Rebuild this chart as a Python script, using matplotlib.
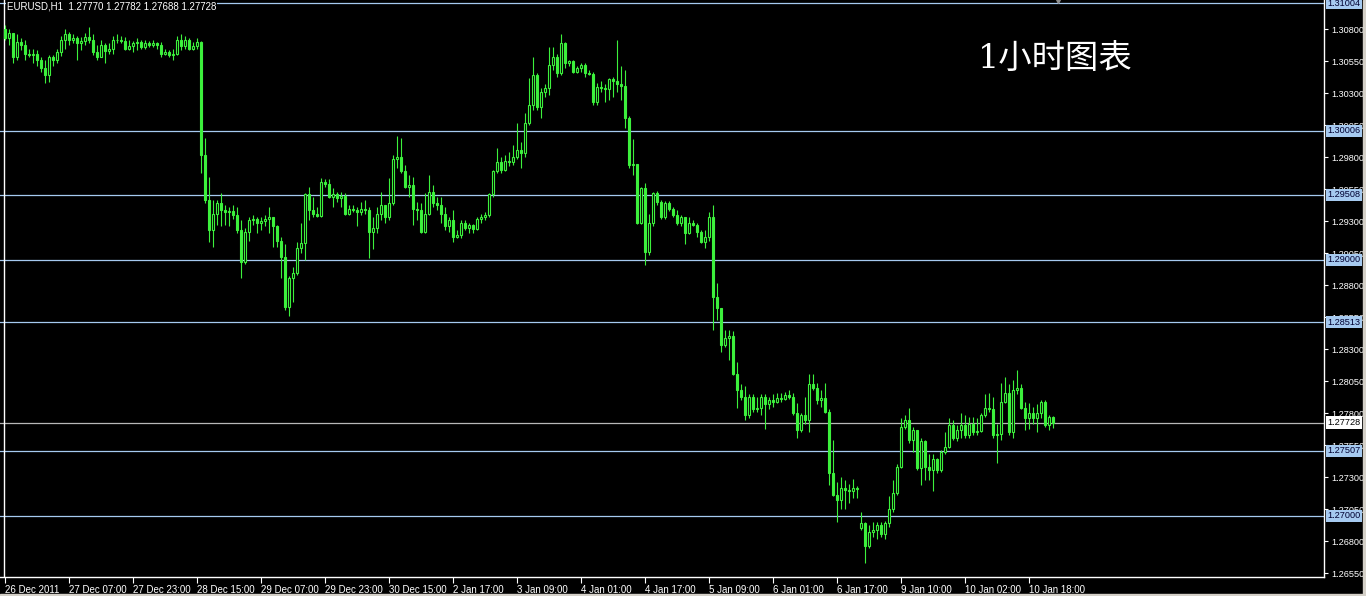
import numpy as np
import matplotlib
matplotlib.use('Agg')
import matplotlib.pyplot as plt
from matplotlib.patches import Rectangle
from matplotlib.transforms import blended_transform_factory

plt.rcParams['font.family'] = ['Liberation Sans', 'Noto Sans CJK SC', 'DejaVu Sans']

# EURUSD H1, 26 Dec 2011 .. 10 Jan 2012
header = 'EURUSD,H1  1.27770 1.27782 1.27688 1.27728'
title = '1小时图表'

first_open = 1.3080
gap_opens = {214: 1.2690}   # weekend gap, open differs from previous close

closes = [
    1.3073, 1.3077, 1.3058, 1.3070, 1.3068, 1.3061, 1.3060, 1.3061, 1.3056, 1.3050,
    1.3044, 1.3058, 1.3056, 1.3062, 1.3072, 1.3076, 1.3072, 1.3073, 1.3069, 1.3071,
    1.3074, 1.3072, 1.3062, 1.3058, 1.3068, 1.3063, 1.3065, 1.3072, 1.3072, 1.3071,
    1.3065, 1.3067, 1.3069, 1.3070, 1.3066, 1.3069, 1.3068, 1.3069, 1.3068, 1.3061,
    1.3062, 1.3060, 1.3061, 1.3072, 1.3067, 1.3072, 1.3065, 1.3067, 1.3070, 1.2982,
    1.2947, 1.2923, 1.2936, 1.2944, 1.2939, 1.2937, 1.2938, 1.2935, 1.2923, 1.2898,
    1.2922, 1.2931, 1.2932, 1.2929, 1.2930, 1.2932, 1.2933, 1.2926, 1.2915, 1.2902,
    1.2863, 1.2886, 1.2890, 1.2909, 1.2913, 1.2951, 1.2939, 1.2936, 1.2934, 1.2961,
    1.2959, 1.2949, 1.2951, 1.2948, 1.2950, 1.2936, 1.2940, 1.2939, 1.2937, 1.2940,
    1.2939, 1.2922, 1.2925, 1.2936, 1.2943, 1.2933, 1.2944, 1.2979, 1.2980, 1.2969,
    1.2957, 1.2958, 1.2940, 1.2939, 1.2922, 1.2936, 1.2953, 1.2944, 1.2943, 1.2936,
    1.2926, 1.2931, 1.2918, 1.2919, 1.2929, 1.2925, 1.2927, 1.2924, 1.2932, 1.2933,
    1.2935, 1.2951, 1.2969, 1.2976, 1.2970, 1.2977, 1.2976, 1.2980, 1.2986, 1.2983,
    1.3007, 1.3021, 1.3044, 1.3019, 1.3031, 1.3034, 1.3052, 1.3058, 1.3046, 1.3069,
    1.3054, 1.3055, 1.3047, 1.3050, 1.3052, 1.3046, 1.3045, 1.3023, 1.3035, 1.3034,
    1.3033, 1.3041, 1.3040, 1.3037, 1.3036, 1.3011, 1.2974, 1.2975, 1.2929, 1.2956,
    1.2906, 1.2929, 1.2952, 1.2945, 1.2933, 1.2944, 1.2940, 1.2935, 1.2929, 1.2933,
    1.2921, 1.2929, 1.2927, 1.2922, 1.2914, 1.2918, 1.2933, 1.2871, 1.2862, 1.2833,
    1.2839, 1.2840, 1.2811, 1.2798, 1.2793, 1.2779, 1.2793, 1.2783, 1.2784, 1.2793,
    1.2787, 1.2790, 1.2789, 1.2792, 1.2791, 1.2794, 1.2793, 1.2780, 1.2767, 1.2779,
    1.2775, 1.2803, 1.2800, 1.2790, 1.2792, 1.2781, 1.2733, 1.2716, 1.2712, 1.2722,
    1.2720, 1.2719, 1.2722, 1.2721, 1.2694, 1.2676, 1.2687, 1.2689, 1.2693, 1.2686,
    1.2694, 1.2705, 1.2718, 1.2738, 1.2769, 1.2775, 1.2759, 1.2767, 1.2737, 1.2758,
    1.2738, 1.2736, 1.2744, 1.2736, 1.2750, 1.2754, 1.2771, 1.2761, 1.2767, 1.2771,
    1.2763, 1.2772, 1.2765, 1.2766, 1.2779, 1.2784, 1.2783, 1.2763, 1.2764, 1.2789,
    1.2796, 1.2765, 1.2798, 1.2800, 1.2784, 1.2776, 1.2780, 1.2776, 1.2780, 1.2789,
    1.2771, 1.27770, 1.27728,
]

highs = [
    1.3083, 1.3080, 1.3073, 1.3076, 1.3073, 1.3072, 1.3065, 1.3065, 1.3064, 1.3058,
    1.3056, 1.3060, 1.3060, 1.3065, 1.3075, 1.3080, 1.3078, 1.3076, 1.3075, 1.3074,
    1.3077, 1.3082, 1.3076, 1.3068, 1.3072, 1.3069, 1.3069, 1.3075, 1.3076, 1.3075,
    1.3074, 1.3072, 1.3071, 1.3073, 1.3072, 1.3072, 1.3071, 1.3072, 1.3070, 1.3070,
    1.3065, 1.3064, 1.3065, 1.3075, 1.3076, 1.3075, 1.3073, 1.3070, 1.3073, 1.3071,
    1.2995, 1.2965, 1.2947, 1.2947, 1.2952, 1.2943, 1.2941, 1.2943, 1.2941, 1.2931,
    1.2925, 1.2933, 1.2935, 1.2933, 1.2933, 1.2935, 1.2941, 1.2933, 1.2927, 1.2918,
    1.2912, 1.2887, 1.2894, 1.2914, 1.2929, 1.2952, 1.2957, 1.2949, 1.2941, 1.2964,
    1.2963, 1.2963, 1.2956, 1.2953, 1.2953, 1.2952, 1.2943, 1.2943, 1.2941, 1.2945,
    1.2947, 1.2941, 1.2933, 1.2941, 1.2953, 1.2941, 1.2964, 1.2982, 1.2997, 1.2995,
    1.2974, 1.2966, 1.2965, 1.2945, 1.2944, 1.2952, 1.2966, 1.2958, 1.2949, 1.2949,
    1.2941, 1.2933, 1.2939, 1.2923, 1.2931, 1.2931, 1.2929, 1.2928, 1.2933, 1.2936,
    1.2937, 1.2952, 1.2970, 1.2987, 1.2980, 1.2982, 1.2984, 1.2990, 1.3007, 1.2992,
    1.3015, 1.3042, 1.3058, 1.3046, 1.3034, 1.3037, 1.3066, 1.3066, 1.3061, 1.3076,
    1.3070, 1.3056, 1.3056, 1.3051, 1.3054, 1.3054, 1.3048, 1.3047, 1.3038, 1.3040,
    1.3037, 1.3042, 1.3043, 1.3072, 1.3051, 1.3048, 1.3012, 1.2994, 1.2975, 1.2957,
    1.2960, 1.2936, 1.2953, 1.2954, 1.2947, 1.2946, 1.2946, 1.2941, 1.2939, 1.2935,
    1.2933, 1.2933, 1.2931, 1.2929, 1.2923, 1.2923, 1.2937, 1.2943, 1.2882, 1.2862,
    1.2845, 1.2845, 1.2844, 1.2820, 1.2803, 1.2801, 1.2795, 1.2795, 1.2793, 1.2795,
    1.2795, 1.2793, 1.2795, 1.2796, 1.2796, 1.2797, 1.2798, 1.2796, 1.2788, 1.2780,
    1.2793, 1.2811, 1.2811, 1.2804, 1.2798, 1.2804, 1.2783, 1.2759, 1.2726, 1.2730,
    1.2728, 1.2725, 1.2729, 1.2723, 1.2703, 1.2695, 1.2693, 1.2695, 1.2695, 1.2695,
    1.2696, 1.2715, 1.2728, 1.2740, 1.2776, 1.2779, 1.2784, 1.2769, 1.2767, 1.2761,
    1.2759, 1.2748, 1.2748, 1.2745, 1.2751, 1.2765, 1.2776, 1.2775, 1.2771, 1.2780,
    1.2779, 1.2777, 1.2777, 1.2776, 1.2780, 1.2795, 1.2796, 1.2793, 1.2772, 1.2804,
    1.2808, 1.2803, 1.2806, 1.2814, 1.2803, 1.2789, 1.2788, 1.2785, 1.2787, 1.2790,
    1.2790, 1.2779, 1.27782,
]

lows = [
    1.3072, 1.3068, 1.3054, 1.3056, 1.3064, 1.3056, 1.3058, 1.3054, 1.3051, 1.3047,
    1.3038, 1.3039, 1.3051, 1.3054, 1.3059, 1.3065, 1.3068, 1.3069, 1.3056, 1.3064,
    1.3068, 1.3069, 1.3060, 1.3056, 1.3058, 1.3054, 1.3061, 1.3061, 1.3069, 1.3069,
    1.3064, 1.3064, 1.3062, 1.3064, 1.3065, 1.3065, 1.3066, 1.3066, 1.3065, 1.3058,
    1.3060, 1.3058, 1.3056, 1.3060, 1.3064, 1.3065, 1.3064, 1.3064, 1.3065, 1.2968,
    1.2944, 1.2914, 1.2910, 1.2927, 1.2926, 1.2927, 1.2926, 1.2932, 1.2921, 1.2886,
    1.2897, 1.2915, 1.2927, 1.2921, 1.2923, 1.2926, 1.2921, 1.2910, 1.2910, 1.2886,
    1.2861, 1.2856, 1.2867, 1.2888, 1.2905, 1.2900, 1.2931, 1.2933, 1.2933, 1.2933,
    1.2957, 1.2948, 1.2941, 1.2945, 1.2941, 1.2935, 1.2935, 1.2937, 1.2926, 1.2935,
    1.2936, 1.2901, 1.2908, 1.2921, 1.2931, 1.2929, 1.2931, 1.2943, 1.2972, 1.2968,
    1.2956, 1.2949, 1.2927, 1.2931, 1.2921, 1.2921, 1.2935, 1.2941, 1.2939, 1.2929,
    1.2923, 1.2922, 1.2914, 1.2917, 1.2917, 1.2923, 1.2921, 1.2921, 1.2923, 1.2929,
    1.2931, 1.2933, 1.2949, 1.2968, 1.2968, 1.2969, 1.2973, 1.2974, 1.2979, 1.2972,
    1.2980, 1.3005, 1.3017, 1.3017, 1.3011, 1.3027, 1.3029, 1.3048, 1.3043, 1.3044,
    1.3050, 1.3051, 1.3046, 1.3046, 1.3047, 1.3043, 1.3044, 1.3021, 1.3021, 1.3031,
    1.3023, 1.3025, 1.3027, 1.3031, 1.3025, 1.3003, 1.2972, 1.2966, 1.2928, 1.2928,
    1.2896, 1.2904, 1.2926, 1.2943, 1.2932, 1.2932, 1.2938, 1.2933, 1.2927, 1.2926,
    1.2912, 1.2920, 1.2926, 1.2918, 1.2913, 1.2909, 1.2915, 1.2845, 1.2853, 1.2828,
    1.2832, 1.2822, 1.2810, 1.2784, 1.2790, 1.2775, 1.2776, 1.2781, 1.2781, 1.2779,
    1.2768, 1.2783, 1.2785, 1.2788, 1.2789, 1.2790, 1.2791, 1.2779, 1.2761, 1.2765,
    1.2772, 1.2765, 1.2798, 1.2787, 1.2785, 1.2780, 1.2724, 1.2715, 1.2695, 1.2705,
    1.2705, 1.2710, 1.2714, 1.2714, 1.2689, 1.2663, 1.2675, 1.2683, 1.2682, 1.2683,
    1.2682, 1.2691, 1.2703, 1.2716, 1.2737, 1.2768, 1.2757, 1.2750, 1.2736, 1.2724,
    1.2728, 1.2728, 1.2719, 1.2733, 1.2734, 1.2748, 1.2753, 1.2759, 1.2758, 1.2761,
    1.2761, 1.2761, 1.2763, 1.2763, 1.2765, 1.2777, 1.2781, 1.2761, 1.2741, 1.2759,
    1.2788, 1.2763, 1.2761, 1.2795, 1.2783, 1.2767, 1.2768, 1.2772, 1.2765, 1.2776,
    1.2769, 1.2767, 1.27688,
]

time_labels = ['26 Dec 2011', '27 Dec 07:00', '27 Dec 23:00', '28 Dec 15:00',
               '29 Dec 07:00', '29 Dec 23:00', '30 Dec 15:00', '2 Jan 17:00',
               '3 Jan 09:00', '4 Jan 01:00', '4 Jan 17:00', '5 Jan 09:00',
               '6 Jan 01:00', '6 Jan 17:00', '9 Jan 10:00', '10 Jan 02:00',
               '10 Jan 18:00']
bars_per_label = 16

price_ticks = [1.26550, 1.26800, 1.27050, 1.27300, 1.27550, 1.27800, 1.28050,
               1.28300, 1.28550, 1.28800, 1.29050, 1.29300, 1.29550, 1.29800,
               1.30050, 1.30300, 1.30550, 1.30800]
level_lines = [1.31004, 1.30006, 1.29508, 1.29000, 1.28513, 1.27507, 1.27000]
last_price = 1.27728

green = '#3cf03c'
level_color = '#a6caf0'

# ---- candles
n = len(closes)
opens = [first_open] + closes[:-1]
for k, v in gap_opens.items():
    opens[k] = v
o = np.array(opens)
c = np.array(closes)
h = np.maximum(np.array(highs), np.maximum(o, c))
l = np.minimum(np.array(lows), np.minimum(o, c))
x = np.arange(n)
up = c >= o

W, H = 1366, 596
fig = plt.figure(figsize=(W / 100, H / 100), dpi=100, facecolor='black')
ax = fig.add_axes([0, 19 / H, 1324 / W, 577 / H], facecolor='black')

ax.vlines(x, l, h, color=green, lw=0.8, zorder=3)
ax.bar(x[up], (c - o)[up], bottom=o[up], width=0.5, facecolor='black',
       edgecolor=green, linewidth=0.8, zorder=4)
ax.bar(x[~up], (o - c)[~up], bottom=c[~up], width=0.5, facecolor=green,
       edgecolor=green, linewidth=0.8, zorder=4)

for lv in level_lines:
    ax.axhline(lv, color=level_color, lw=0.9, zorder=2)
ax.axhline(last_price, color='#b8b8b8', lw=0.9, zorder=2)

ax.set_xlim(-1.25, 329.75)
ax.set_ylim(1.26521, 1.31029)

# axes frame like the terminal
for s in ['top', 'left']:
    ax.spines[s].set_visible(False)
for s in ['bottom', 'right']:
    ax.spines[s].set_color('white')
    ax.spines[s].set_linewidth(1.0)
ax.axvline(-0.25, color='white', lw=1.0)

ax.yaxis.tick_right()
ax.set_yticks(price_ticks)
ax.set_yticklabels([f'{p:.5f}' for p in price_ticks])
ax.tick_params(axis='y', colors='white', labelsize=6.6, length=3, width=0.8, pad=2)

ax.set_xticks(np.arange(len(time_labels)) * bars_per_label)
ax.set_xticklabels(time_labels)
ax.tick_params(axis='x', colors='white', labelsize=7, length=4, width=0.8, pad=1.5)
for lbl in ax.get_xticklabels():
    lbl.set_horizontalalignment('left')

# price boxes on the scale (they sit over the regular scale labels, as in the terminal)
tr = blended_transform_factory(ax.transAxes, ax.transData)
for lv in level_lines:
    ax.text(1.0025, lv, f'{lv:.5f}', transform=tr, ha='left', va='center',
            fontsize=6.6, color='#000030', clip_on=False, zorder=10,
            bbox=dict(boxstyle='square,pad=0.18', fc=level_color, ec='none'))
ax.text(1.0025, last_price, f'{last_price:.5f}', transform=tr, ha='left',
        va='center', fontsize=6.6, color='black', clip_on=False, zorder=10,
        bbox=dict(boxstyle='square,pad=0.18', fc='white', ec='none'))

# chart shift marker
ax.plot([263.25], [1.31029], marker='v', ms=5, color='#909090', clip_on=False, zorder=6)

fig.text(7 / W, 1 - 1.5 / H, header, ha='left', va='top', fontsize=7, color='white',
         bbox=dict(boxstyle='square,pad=0.1', fc='black', ec='none'), zorder=10)
fig.text(1055 / W, 1 - 60 / H, title, ha='center', va='center', fontsize=24,
         color='white', family=['DejaVu Serif', 'Noto Sans CJK SC'])

# window edges
fig.patches.append(Rectangle((1 - 3 / W, 0), 3 / W, 1, transform=fig.transFigure,
                             color='#d4d0c8', zorder=0))
fig.patches.append(Rectangle((0, 0), 1, 2 / H, transform=fig.transFigure,
                             color='#d4d0c8', zorder=0))

fig.savefig('out.png', dpi=100, facecolor='black')
